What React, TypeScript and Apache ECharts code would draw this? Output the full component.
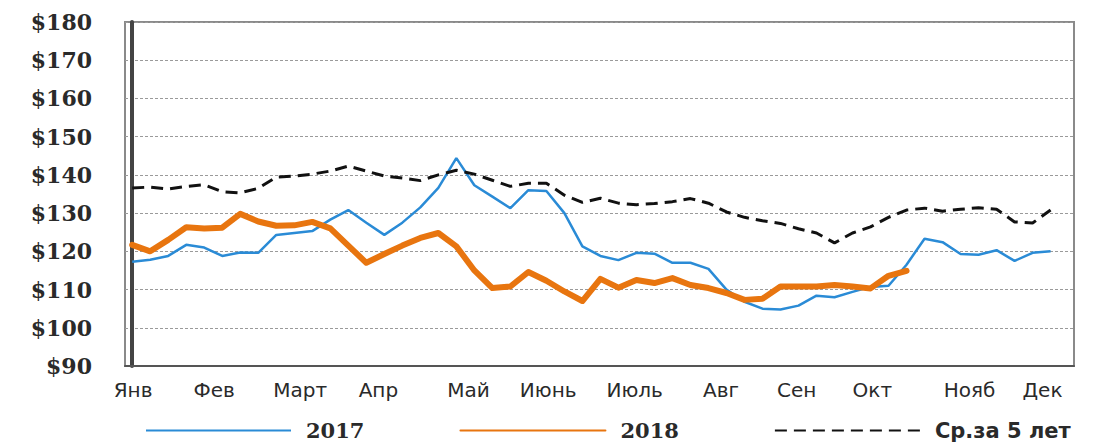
import React, { useEffect, useRef } from "react";
import * as echarts from "echarts";

const yTicks = [90, 100, 110, 120, 130, 140, 150, 160, 170, 180];
const monthNames = ["Янв", "Фев", "Март", "Апр", "Май", "Июнь", "Июль", "Авг", "Сен", "Окт", "Нояб", "Дек"];
// label positions, in week-index units
const monthPos = [0.05, 4.55, 9.33, 13.67, 18.67, 23.1, 27.9, 32.7, 36.9, 41.1, 46.5, 50.55];

const series2017 = [
  117.3, 117.8, 118.8, 121.7, 121.0, 118.8, 119.7, 119.6, 124.3, 124.8,
  125.3, 128.3, 130.8, 127.5, 124.3, 127.5, 131.5, 136.6, 144.4, 137.3,
  134.3, 131.3, 136.0, 135.8, 130.0, 121.3, 118.8, 117.7, 119.6, 119.4,
  117.0, 117.0, 115.4, 110.0, 106.8, 105.0, 104.8, 105.8, 108.4, 108.0,
  109.4, 110.7, 111.0, 116.5, 123.3, 122.4, 119.3, 119.1, 120.3, 117.5,
  119.6, 120.0,
];

const series2018 = [
  121.7, 120.0, 123.0, 126.3, 126.0, 126.2, 129.8, 127.8, 126.7, 126.8,
  127.7, 126.0, 121.5, 117.0, 119.3, 121.5, 123.5, 124.8, 121.3, 115.0,
  110.4, 110.8, 114.6, 112.3, 109.5, 107.0, 112.8, 110.5, 112.5, 111.7,
  113.0, 111.2, 110.4, 109.1, 107.3, 107.6, 110.8, 110.8, 110.8, 111.2,
  110.8, 110.3, 113.6, 114.9,
];

const seriesAvg = [
  136.6, 136.8, 136.3, 137.0, 137.4, 135.6, 135.3, 136.5, 139.4, 139.7,
  140.2, 141.0, 142.3, 141.0, 139.7, 139.2, 138.5, 140.0, 141.2, 140.2,
  138.6, 137.0, 137.8, 137.8, 134.7, 132.8, 133.9, 132.6, 132.2, 132.5,
  133.0, 133.8, 132.6, 130.3, 128.9, 128.0, 127.3, 125.9, 124.8, 122.2,
  124.8, 126.4, 128.9, 130.8, 131.3, 130.5, 131.0, 131.4, 131.0, 127.7,
  127.4, 130.8,
];

const seriesNames = ["2017", "2018", "Ср.за 5 лет"];

const toPairs = (arr: number[]) => arr.map((v, i) => [i, v]);

export default function App() {
  const ref = useRef<HTMLDivElement>(null);
  useEffect(() => {
    if (!ref.current) return;
    const chart = echarts.init(ref.current, null, { renderer: "svg" });
    chart.setOption({
      animation: false,
      backgroundColor: "#ffffff",
      grid: {
        left: 125,
        right: 28,
        top: 22,
        bottom: 78,
        show: true,
        borderColor: "#8a8a8a",
        borderWidth: 2,
      },
      xAxis: {
        type: "value",
        min: -0.4,
        max: 52.3,
        splitLine: { show: false },
        axisTick: { show: false },
        axisLine: { show: true, lineStyle: { color: "#555", width: 2 } },
        axisLabel: {
          customValues: monthPos,
          formatter: (val: number) => {
            let best = 0;
            let d = Infinity;
            monthPos.forEach((p, i) => {
              const dd = Math.abs(p - val);
              if (dd < d) {
                d = dd;
                best = i;
              }
            });
            return monthNames[best];
          },
          fontFamily: "DejaVu Sans",
          fontSize: 20,
          color: "#2a2a2a",
          margin: 14,
        },
      },
      yAxis: {
        type: "value",
        min: yTicks[0],
        max: yTicks[yTicks.length - 1],
        interval: 10,
        axisLine: { show: true, lineStyle: { color: "#444", width: 4 } },
        axisTick: { show: false },
        axisLabel: {
          formatter: (v: number) => "$" + v,
          fontFamily: "DejaVu Serif",
          fontWeight: "bold",
          fontSize: 22,
          color: "#2a2a2a",
          margin: 33,
        },
        splitLine: {
          show: true,
          lineStyle: { color: "#9a9a9a", width: 1, type: [3, 2] },
        },
      },
      legend: {
        left: 145,
        top: 420,
        padding: 0,
        itemWidth: 145,
        itemHeight: 14,
        itemGap: 95,
        data: seriesNames,
        itemStyle: { opacity: 0 },
        formatter: (name: string) =>
          name === seriesNames[2] ? `{s|${name}}` : `{n|${name}}`,
        textStyle: {
          rich: {
            n: {
              fontFamily: "DejaVu Serif",
              fontWeight: "bold",
              fontSize: 21,
              lineHeight: 22,
              color: "#2a2a2a",
              padding: [0, 0, 0, 10],
            },
            s: {
              fontFamily: "DejaVu Sans",
              fontWeight: "bold",
              fontSize: 21,
              lineHeight: 22,
              color: "#2a2a2a",
              padding: [0, 0, 0, 10],
            },
          },
        },
      },
      series: [
        {
          name: seriesNames[0],
          type: "line",
          data: toPairs(series2017),
          symbol: "none",
          lineStyle: { color: "#2a8bd6", width: 2.5 },
          itemStyle: { color: "#2a8bd6" },
        },
        {
          name: seriesNames[1],
          type: "line",
          data: toPairs(series2018),
          symbol: "none",
          lineStyle: { color: "#e8750f", width: 6, join: "round", cap: "round" },
          itemStyle: { color: "#e8750f" },
        },
        {
          name: seriesNames[2],
          type: "line",
          data: toPairs(seriesAvg),
          symbol: "none",
          lineStyle: { color: "#111", width: 3, type: [12, 7] },
          itemStyle: { color: "#111" },
        },
      ],
    });
    return () => chart.dispose();
  }, []);
  return <div ref={ref} style={{ width: 1102, height: 444, position: "absolute", left: 0, top: 0 }} />;
}
